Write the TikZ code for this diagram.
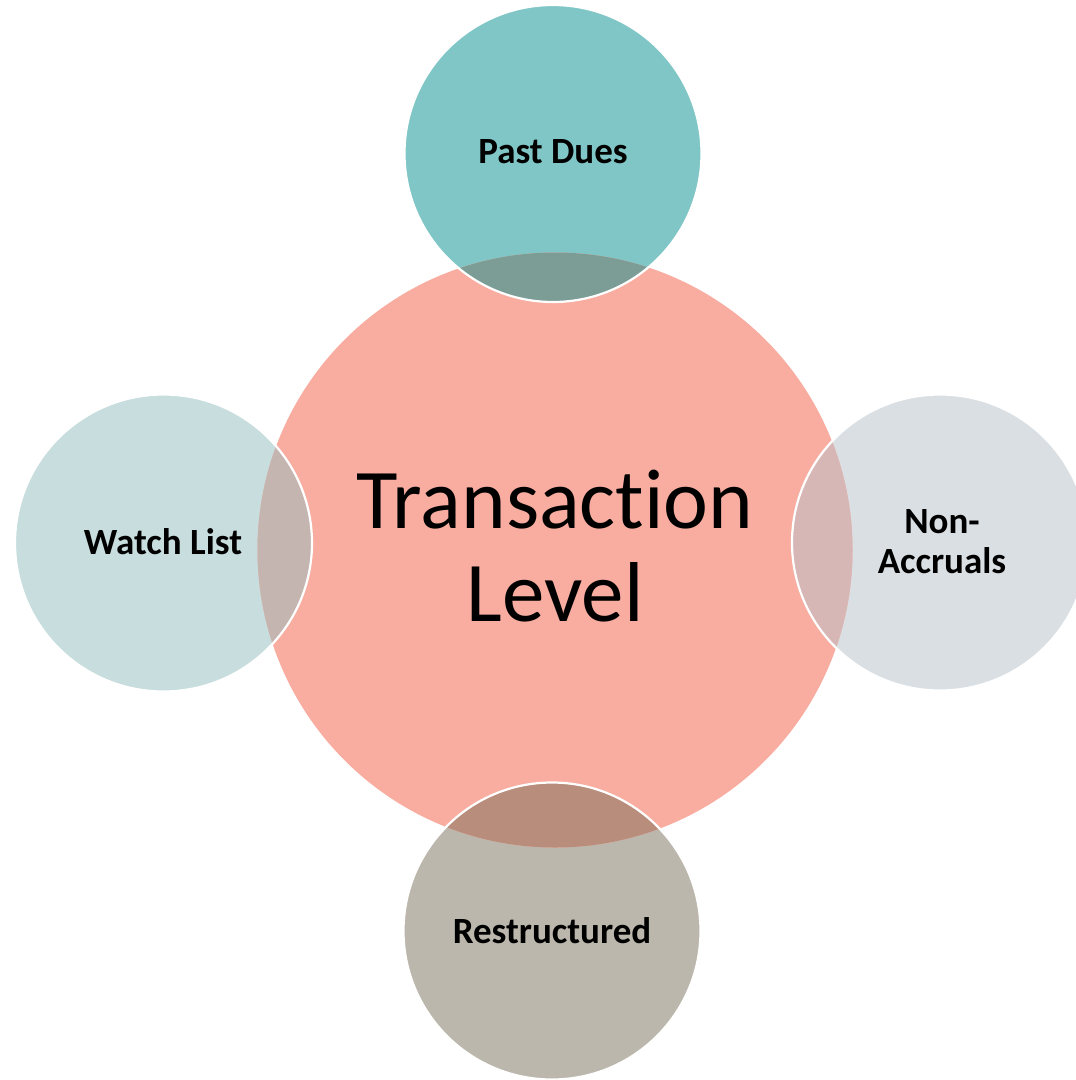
\documentclass[tikz,border=0pt]{standalone}
\usepackage{fontspec}
\setmainfont{Carlito}[Ligatures=CommonOff]
\definecolor{salmon}{RGB}{248,173,160}
\definecolor{tealc}{RGB}{128,198,198}
\definecolor{tealov}{RGB}{123,157,149}
\definecolor{watchc}{RGB}{200,221,222}
\definecolor{watchov}{RGB}{196,181,176}
\definecolor{nonc}{RGB}{218,223,227}
\definecolor{nonov}{RGB}{214,183,182}
\definecolor{restc}{RGB}{187,183,172}
\definecolor{restov}{RGB}{184,141,124}
\tikzset{
  lbl/.style={font=\fontsize{37}{40}\selectfont\bfseries, align=center, text=black, inner sep=0pt},
  biglbl/.style={font=\fontsize{85}{93}\selectfont, align=center, text=black, inner sep=0pt},
  rim/.style={draw=white, line width=2.2pt}
}
\begin{document}
\begin{tikzpicture}[x=1pt,y=-1pt]
\useasboundingbox (0,0) rectangle (1076,1080);
\def\central{(555,550) circle (297.5)}
\def\cpd{(553,153.5) circle (148.5)}
\def\cwl{(163.5,543) circle (148.5)}
\def\cna{(940,542.5) circle (148)}
\def\crs{(552,931) circle (148.5)}
% outer circles
\fill[tealc] \cpd;
\fill[watchc] \cwl;
\fill[nonc] \cna;
\fill[restc] \crs;
% central circle
\fill[salmon] \central;
% overlaps
\begin{scope}
  \clip \central;
  \fill[tealov] \cpd;
  \fill[watchov] \cwl;
  \fill[nonov] \cna;
  \fill[restov] \crs;
\end{scope}
% white rims
\draw[rim] \cpd;
\draw[rim] \cwl;
\draw[rim] \cna;
\draw[rim] \crs;
% labels
\node[biglbl] (center) at (555,546) {Transaction\\Level};
\node[lbl] (pd) at (553,152) {Past Dues};
\node[lbl] (wl) at (163,542) {Watch List};
\node[lbl] (na) at (942,542) {Non-\\Accruals};
\node[lbl] (rs) at (552,931) {Restructured};
\end{tikzpicture}
\end{document}
